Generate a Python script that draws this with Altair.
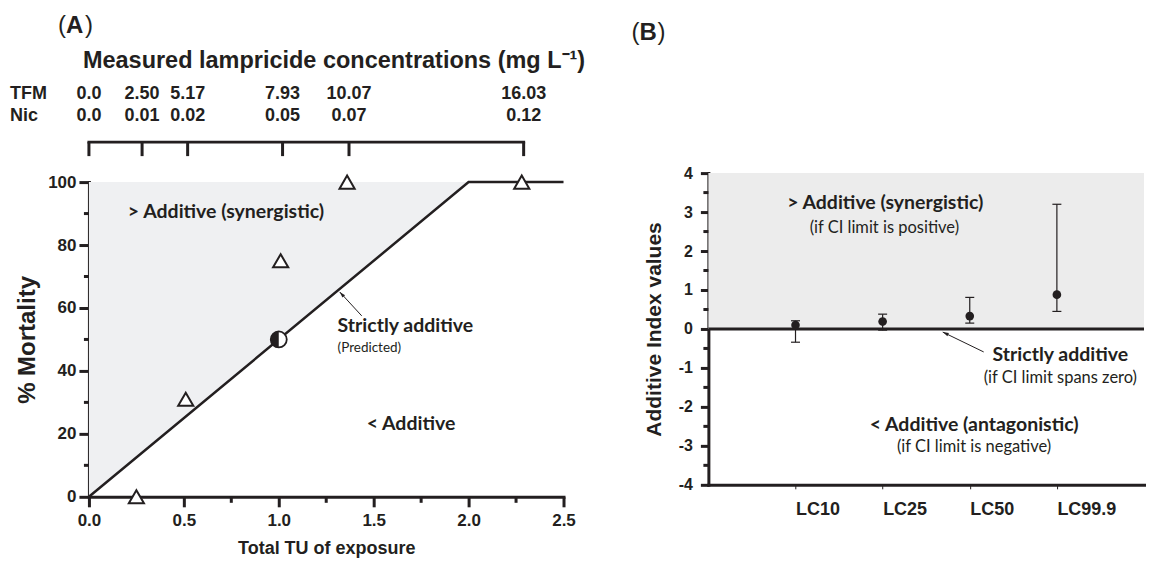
import altair as alt
import pandas as pd

# ---------------- Panel A data ----------------
tu_ticks = [0.0, 0.28, 0.52, 1.02, 1.37, 2.29]
tfm_conc = ["0.0", "2.50", "5.17", "7.93", "10.07", "16.03"]
nic_conc = ["0.0", "0.01", "0.02", "0.05", "0.07", "0.12"]

obs_tu = [0.25, 0.51, 1.01, 1.36, 2.28]
obs_mortality = [0, 31, 75, 100, 100]

pred_tu = [1.0]
pred_mortality = [50]

additive_tu = [0.0, 2.0, 2.5]
additive_mortality = [0, 100, 100]

shade_tu = [0.0, 2.0]
shade_low = [0, 100]
shade_high = [100, 100]

a_x_major = [0.0, 0.5, 1.0, 1.5, 2.0, 2.5]
a_x_minor = [0.25, 0.75, 1.25, 1.75, 2.25]
a_y_major = [0, 20, 40, 60, 80, 100]
a_y_minor = [10, 30, 50, 70, 90]

# ---------------- Panel B data ----------------
lc_pos = [1, 2, 3, 4]
lc_names = ["LC10", "LC25", "LC50", "LC99.9"]
ai_value = [0.10, 0.19, 0.33, 0.88]
ci_low = [-0.34, -0.03, 0.15, 0.45]
ci_high = [0.21, 0.38, 0.81, 3.20]
b_y_major = [-4, -3, -2, -1, 0, 1, 2, 3, 4]
b_y_minor = [-3.5, -2.5, -1.5, -0.5, 0.5, 1.5, 2.5, 3.5]

# ---------------- styles ----------------
INK = "#231f20"
AX_FONT = "Liberation Sans"
ANN_FONT = "Lato"
A_W, A_H = 475, 324
B_W, B_H = 436, 312
BIG = 19.5

one = pd.DataFrame({"k": [0]})


def label(x, y, s, size, weight="normal", font=ANN_FONT, align="left"):
    return alt.Chart(one).mark_text(
        text=s, align=align, baseline="middle", font=font,
        fontSize=size, fontWeight=weight, color=INK
    ).encode(x=x, y=y)


def arrow(x_tail, y_tail, x_head, y_head, angle):
    shaft = alt.Chart(one).mark_rule(color=INK, strokeWidth=1).encode(
        x=alt.datum(x_tail), y=alt.datum(y_tail),
        x2=alt.datum(x_head), y2=alt.datum(y_head))
    head = alt.Chart(one).mark_point(
        shape="M0,0L-0.6,2L0.6,2Z", filled=True, color=INK, opacity=1,
        size=36, angle=angle).encode(x=alt.datum(x_head), y=alt.datum(y_head))
    return shaft + head


# ================= Panel A =================
xA = alt.Scale(domain=[0, 2.5], nice=False, zero=False)
yA = alt.Scale(domain=[0, 100], range=[A_H, 9], nice=False, zero=False)

axA_x = alt.Axis(values=a_x_major, format=".1f", title="Total TU of exposure",
                 domainColor=INK, domainWidth=3, domainCap="square",
                 tickColor=INK, tickWidth=3, tickSize=10,
                 labelFont=AX_FONT, labelFontSize=17, labelFontWeight="bold",
                 labelColor=INK, labelPadding=6, labelFlush=False, labelOverlap=False,
                 titleFont=AX_FONT, titleFontSize=18, titleFontWeight="bold",
                 titleColor=INK, titlePadding=11, grid=False)
axA_y = alt.Axis(values=a_y_major, format="d", title="% Mortality",
                 domainColor=INK, domainWidth=3, domainCap="square",
                 tickColor=INK, tickWidth=3, tickSize=10,
                 labelFont=AX_FONT, labelFontSize=17, labelFontWeight="bold",
                 labelColor=INK, labelPadding=3, labelFlush=False, labelOverlap=False,
                 titleFont=AX_FONT, titleFontSize=24, titleFontWeight="bold",
                 titleColor=INK, titlePadding=8, grid=False)

df_shade = pd.DataFrame({"tu": shade_tu, "lo": shade_low, "hi": shade_high})
df_line = pd.DataFrame({"tu": additive_tu, "mort": additive_mortality})
df_obs = pd.DataFrame({"tu": obs_tu, "mort": obs_mortality})
df_pred = pd.DataFrame({"tu": pred_tu, "mort": pred_mortality})
df_ticks = pd.DataFrame({"tu": tu_ticks, "tfm": tfm_conc, "nic": nic_conc})

shadeA = alt.Chart(df_shade).mark_area(color="#eff0f2", opacity=1).encode(
    x=alt.X("tu:Q", scale=xA, axis=axA_x),
    y=alt.Y("lo:Q", scale=yA, axis=axA_y), y2="hi:Q")
lineA = alt.Chart(df_line).mark_line(color=INK, strokeWidth=2.5).encode(
    x="tu:Q", y="mort:Q")
xminA = alt.Chart(pd.DataFrame({"tu": a_x_minor})).mark_rule(
    color=INK, strokeWidth=3).encode(x="tu:Q", y=alt.value(A_H), y2=alt.value(A_H + 6))
yminA = alt.Chart(pd.DataFrame({"mort": a_y_minor})).mark_rule(
    color=INK, strokeWidth=3).encode(y="mort:Q", x=alt.value(-5), x2=alt.value(0))

bracket = alt.Chart(one).mark_rule(color=INK, strokeWidth=3, strokeCap="square").encode(
    x=alt.datum(tu_ticks[0]), x2=alt.datum(tu_ticks[-1]), y=alt.value(-31))
bracket_ticks = alt.Chart(df_ticks).mark_rule(color=INK, strokeWidth=3).encode(
    x="tu:Q", y=alt.value(-31), y2=alt.value(-17))
tfm_text = alt.Chart(df_ticks).mark_text(
    font=AX_FONT, fontSize=18, fontWeight="bold", color=INK, baseline="middle").encode(
    x="tu:Q", y=alt.value(-79), text="tfm:N")
nic_text = alt.Chart(df_ticks).mark_text(
    font=AX_FONT, fontSize=18, fontWeight="bold", color=INK, baseline="middle").encode(
    x="tu:Q", y=alt.value(-57), text="nic:N")

obsA = alt.Chart(df_obs).mark_point(
    shape="triangle-up", filled=False, fill="white", fillOpacity=1, stroke=INK,
    strokeWidth=2, size=230, opacity=1).encode(x="tu:Q", y="mort:Q")
predA_bg = alt.Chart(df_pred).mark_point(
    shape="circle", filled=True, color="white", opacity=1, size=256).encode(x="tu:Q", y="mort:Q")
predA_half = alt.Chart(df_pred).mark_point(
    shape="M0,-1A1,1,0,0,0,0,1Z", filled=True, color=INK, opacity=1, size=256).encode(
    x="tu:Q", y="mort:Q")
predA_ring = alt.Chart(df_pred).mark_point(
    shape="circle", filled=False, color=INK, strokeWidth=1.8, opacity=1, size=256).encode(
    x="tu:Q", y="mort:Q")

panelA = alt.layer(
    shadeA, lineA, xminA, yminA, bracket, bracket_ticks, tfm_text, nic_text,
    label(alt.value(-79), alt.value(-79), "TFM", 18, "bold", AX_FONT),
    label(alt.value(-79), alt.value(-57), "Nic", 18, "bold", AX_FONT),
    label(alt.value(-6), alt.value(-112), "Measured lampricide concentrations (mg L\u207b\u00b9)",
          23.5, "bold", AX_FONT),
    label(alt.value(-31), alt.value(-147), "(", 24, "normal", AX_FONT),
    label(alt.value(-23), alt.value(-147), "A", 24, "bold", AX_FONT),
    label(alt.value(-4), alt.value(-147), ")", 24, "normal", AX_FONT),
    label(alt.datum(0.205), alt.datum(90.5), "> Additive (synergistic)", BIG, "bold"),
    label(alt.datum(1.31), alt.datum(54.3), "Strictly additive", BIG, "bold"),
    label(alt.datum(1.31), alt.datum(47.4), "(Predicted)", 13.5),
    label(alt.datum(1.463), alt.datum(23.2), "< Additive", BIG, "bold"),
    arrow(1.437, 57.5, 1.321, 65.1, 317.5),
    obsA, predA_bg, predA_half, predA_ring,
).properties(width=A_W, height=A_H)

# ================= Panel B =================
xB = alt.Scale(domain=[0, 5], nice=False, zero=False)
yB = alt.Scale(domain=[-4, 4], nice=False, zero=False)

lc_expr = "[" + ",".join(["''"] + ["'%s'" % n for n in lc_names]) + "][datum.value]"

axB_x = alt.Axis(values=lc_pos, labelExpr=lc_expr, title="",
                 domainColor=INK, domainWidth=3, domainCap="square",
                 tickColor=INK, tickWidth=1, tickSize=4,
                 labelFont=AX_FONT, labelFontSize=18, labelFontWeight="bold",
                 labelColor=INK, labelPadding=12, labelAlign="left",
                 labelFlush=False, labelOverlap=False, grid=False)
axB_y = alt.Axis(values=b_y_major, tickCount=len(b_y_major),
                 labelExpr="datum.value < 0 ? '-' + abs(datum.value) : '' + datum.value",
                 title="Additive Index values",
                 domainColor=INK, domainWidth=3, domainCap="square",
                 tickColor=INK, tickWidth=3, tickSize=8,
                 labelFont=AX_FONT, labelFontSize=16, labelFontWeight="bold",
                 labelColor=INK, labelPadding=8, labelFlush=False, labelOverlap=False,
                 labelSeparation=0,
                 titleFont=AX_FONT, titleFontSize=21, titleFontWeight="bold",
                 titleColor=INK, titlePadding=14, grid=False)

df_b = pd.DataFrame({"pos": lc_pos, "name": lc_names, "ai": ai_value,
                     "lo": ci_low, "hi": ci_high})
df_caps = pd.DataFrame({"pos": lc_pos + lc_pos, "ai": ci_low + ci_high})

shadeB = alt.Chart(one).mark_rect(color="#ececec", opacity=1).encode(
    x=alt.XDatum(0, scale=xB, axis=axB_x), x2=alt.datum(5),
    y=alt.YDatum(0, scale=yB, axis=axB_y), y2=alt.datum(4))
zeroB = alt.Chart(one).mark_rule(color=INK, strokeWidth=3).encode(
    x=alt.datum(0), x2=alt.datum(5), y=alt.datum(0))
errB = alt.Chart(df_b).mark_rule(color=INK, strokeWidth=1.2).encode(
    x="pos:Q", y="lo:Q", y2="hi:Q")
capsB = alt.Chart(df_caps).mark_tick(
    orient="horizontal", size=9, thickness=1.2, color=INK, opacity=1).encode(
    x="pos:Q", y="ai:Q")
ptsB = alt.Chart(df_b).mark_point(
    filled=True, color=INK, size=75, opacity=1).encode(x="pos:Q", y="ai:Q")
yminB = alt.Chart(pd.DataFrame({"ai": b_y_minor})).mark_rule(
    color=INK, strokeWidth=3).encode(y="ai:Q", x=alt.value(-5), x2=alt.value(0))

SMALL = 16.5
panelB = alt.layer(
    shadeB, zeroB, errB, capsB, ptsB, yminB,
    label(alt.value(-77), alt.value(-140), "(", 24, "normal", AX_FONT),
    label(alt.value(-69), alt.value(-140), "B", 24, "bold", AX_FONT),
    label(alt.value(-51), alt.value(-140), ")", 24, "normal", AX_FONT),
    label(alt.datum(2.03), alt.datum(3.23), "> Additive (synergistic)", BIG, "bold", align="center"),
    label(alt.datum(2.02), alt.datum(2.58), "(if CI limit is positive)", SMALL, align="center"),
    label(alt.datum(4.04), alt.datum(-0.68), "Strictly additive", BIG, "bold", align="center"),
    label(alt.datum(4.04), alt.datum(-1.27), "(if CI limit spans zero)", SMALL, align="center"),
    label(alt.datum(3.05), alt.datum(-2.46), "< Additive (antagonistic)", BIG, "bold", align="center"),
    label(alt.datum(3.05), alt.datum(-3.03), "(if CI limit is negative)", SMALL, align="center"),
    arrow(3.16, -0.59, 2.69, -0.08, 295.5),
).properties(width=B_W, height=B_H)

chart = alt.hconcat(panelA, panelB, spacing=145, bounds="flush").properties(
    padding={"left": 2, "top": 6, "right": 0, "bottom": 0}
).configure_view(stroke=None).configure_axis(labelOverlap=False)

chart.save("out.html", embed_options={"renderer": "svg", "actions": False})
